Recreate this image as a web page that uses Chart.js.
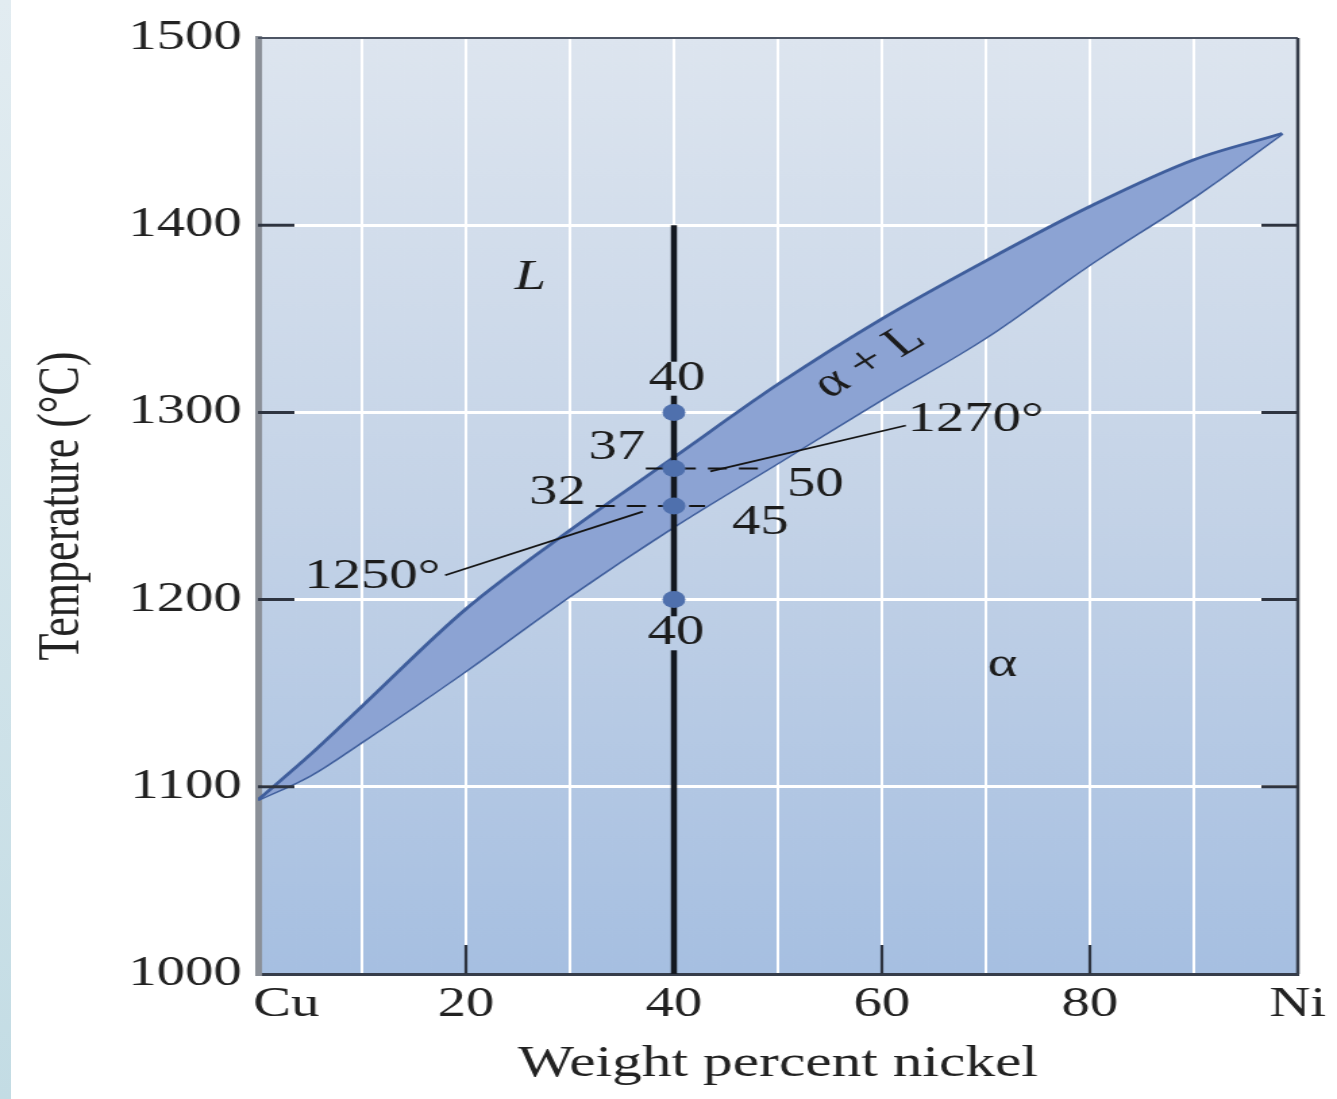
<!DOCTYPE html>
<html>
<head>
<meta charset="utf-8">
<title>Cu-Ni phase diagram</title>
<script src="https://cdn.jsdelivr.net/npm/chart.js@4.4.0/dist/chart.umd.min.js"></script>
<style>
  html, body { margin: 0; padding: 0; background: #fff; overflow: hidden; }
  #strip { position: absolute; left: 0; top: 0; width: 11px; height: 1099px;
           background: linear-gradient(#e2ecf1, #c3dce4); }
  /* the source figure is stretched sideways, so the chart is drawn narrow and scaled */
  #wrap { position: absolute; left: 0; top: 0; width: 990px; height: 1099px;
          transform: scaleX(1.3505); transform-origin: 0 0; }
</style>
</head>
<body>
<div id="strip"></div>
<div id="wrap"><canvas id="phaseChart"></canvas></div>
<script>
// composition (wt% Ni) and temperatures (°C)
const curvePct      = [0, 5, 10, 20, 30, 40, 50, 60, 70, 80, 90, 98.5];
const liquidusTemp  = [1093, 1117, 1143, 1195, 1237, 1276, 1315, 1350, 1381, 1410, 1435, 1449];
const solidusTemp   = [1093, 1106, 1124, 1162, 1202, 1239, 1273, 1307, 1340, 1379, 1415, 1449];

const alloyPct      = 40;
const alloyRange    = [1000, 1400];
const dotTemps      = [1300, 1270, 1250, 1200];

const tie1270Pct    = [37.3, 49];
const tie1250Pct    = [32.5, 43];

const leader1270    = [[62.3, 1293], [43.5, 1268.5]];
const leader1250    = [[18, 1213], [37, 1247]];

const xTickLabels   = { 0: '\u2003Cu', 20: '20', 40: '40', 60: '60', 80: '80', 100: 'Ni' };

// text labels inside the plot: [text, wt%, °C, italic, rotation deg, clear behind]
const notes = [
  ['40', 40.3, 1318, false, 0, true],
  ['37', 34.5, 1281, false, 0, false],
  ['32', 28.8, 1257, false, 0, false],
  ['50', 53.6, 1261.5, false, 0, false],
  ['45', 48.3, 1241, false, 0, false],
  ['40', 40.2, 1182, false, 0, true],
  ['1250°', 11, 1212, false, 0, false],
  ['1270°', 69, 1296, false, 0, false],
  ['L', 26.2, 1372, true, 0, false],
  ['\u03b1 + L', 58.8, 1327, false, -37.9, false],
  ['\u03b1', 71.6, 1165, false, 0, false]
];

const SERIF = '"Liberation Serif", "Times New Roman", serif';
const toPts = (xs, ys) => xs.map((x, i) => ({ x, y: ys[i] }));

let bgGrad = null;
function plotGradient(ctx, a) {
  const g = ctx.createLinearGradient(0, a.top, 0, a.bottom);
  g.addColorStop(0, '#dde5ef');
  g.addColorStop(0.5, '#c4d3e7');
  g.addColorStop(1, '#a6bfe1');
  return g;
}

const framePlugin = {
  id: 'frame',
  beforeDraw(chart) {
    const { ctx, chartArea: a } = chart;
    bgGrad = plotGradient(ctx, a);
    ctx.save();
    ctx.fillStyle = bgGrad;
    ctx.fillRect(a.left, a.top, a.right - a.left, a.bottom - a.top);
    ctx.restore();
  },
  afterDraw(chart) {
    const { ctx, chartArea: a, scales } = chart;
    ctx.save();
    // top + right frame
    ctx.strokeStyle = '#4d5564';
    ctx.lineWidth = 2;
    ctx.beginPath();
    ctx.moveTo(a.left, a.top); ctx.lineTo(a.right, a.top);
    ctx.stroke();
    ctx.strokeStyle = '#363d4a';
    ctx.lineWidth = 2.5;
    ctx.beginPath();
    ctx.moveTo(a.right, a.top); ctx.lineTo(a.right, a.bottom);
    ctx.stroke();
    // inward tick marks
    ctx.strokeStyle = '#2e3440';
    ctx.lineWidth = 3;
    [1100, 1200, 1300, 1400].forEach(v => {
      const y = scales.y.getPixelForValue(v);
      ctx.beginPath();
      ctx.moveTo(a.left, y); ctx.lineTo(a.left + 27, y);
      ctx.moveTo(a.right - 27, y); ctx.lineTo(a.right, y);
      ctx.stroke();
    });
    ctx.lineWidth = 2.2;
    [20, 60, 80].forEach(v => {
      const x = scales.x.getPixelForValue(v);
      ctx.beginPath();
      ctx.moveTo(x, a.bottom); ctx.lineTo(x, a.bottom - 29);
      ctx.stroke();
    });
    // labels
    ctx.textAlign = 'center';
    ctx.textBaseline = 'middle';
    notes.forEach(([t, px, ty, it, rot, clear]) => {
      const x = scales.x.getPixelForValue(px);
      const y = scales.y.getPixelForValue(ty);
      ctx.font = (it ? 'italic ' : '') + '42px ' + SERIF;
      if (clear) {
        // the alloy line is broken where these labels sit
        ctx.fillStyle = bgGrad;
        ctx.fillRect(x - 22, y - 17, 44, 34);
      }
      ctx.fillStyle = '#1c1c1c';
      ctx.save();
      ctx.translate(x, y);
      if (rot) ctx.rotate(rot * Math.PI / 180);
      ctx.fillText(t, 0, 0);
      ctx.restore();
    });
    ctx.restore();
  }
};

const ctx = document.getElementById('phaseChart');
new Chart(ctx, {
  type: 'line',
  data: {
    datasets: [
      { label: 'dots', data: dotTemps.map(t => ({ x: alloyPct, y: t })), showLine: false,
        pointRadius: 8.5, pointBackgroundColor: '#4f70ad', pointBorderWidth: 0, order: 0 },
      { label: 'tie 1270', data: toPts(tie1270Pct, [1270, 1270]), borderColor: '#151515',
        borderWidth: 2, borderDash: [14, 9], pointRadius: 0, order: 1 },
      { label: 'tie 1250', data: toPts(tie1250Pct, [1250, 1250]), borderColor: '#151515',
        borderWidth: 2, borderDash: [14, 9], pointRadius: 0, order: 1 },
      { label: 'leader 1270', data: leader1270.map(p => ({ x: p[0], y: p[1] })), borderColor: '#151515',
        borderWidth: 1.8, pointRadius: 0, order: 1 },
      { label: 'leader 1250', data: leader1250.map(p => ({ x: p[0], y: p[1] })), borderColor: '#151515',
        borderWidth: 1.8, pointRadius: 0, order: 1 },
      { label: 'alloy', data: alloyRange.map(t => ({ x: alloyPct, y: t })), borderColor: '#131820',
        borderWidth: 4.5, pointRadius: 0, order: 2 },
      { label: 'liquidus', data: toPts(curvePct, liquidusTemp), borderColor: '#3f5e9c', borderWidth: 2.8,
        backgroundColor: '#8ca3d3', fill: '+1', pointRadius: 0, cubicInterpolationMode: 'monotone', order: 5 },
      { label: 'solidus', data: toPts(curvePct, solidusTemp), borderColor: '#3f5e9c', borderWidth: 2.8,
        fill: false, pointRadius: 0, cubicInterpolationMode: 'monotone', order: 6 }
    ]
  },
  options: {
    responsive: true,
    maintainAspectRatio: false,
    animation: false,
    layout: { padding: { top: 38, right: 29, bottom: 0, left: 0 } },
    plugins: { legend: { display: false }, tooltip: { enabled: false } },
    scales: {
      x: {
        type: 'linear', min: 0, max: 100,
        afterFit: s => { s.height = 125; },
        ticks: {
          stepSize: 10, autoSkip: false, maxRotation: 0, padding: 6, color: '#222',
          font: { family: SERIF, size: 42 },
          callback: v => xTickLabels[v] || ''
        },
        grid: {
          drawTicks: false, lineWidth: 2,
          color: c => (c.tick && (c.tick.value === 0 || c.tick.value === 100)) ? 'rgba(0,0,0,0)' : '#ffffff'
        },
        border: { color: '#363d4a', width: 3 },
        title: { display: true, text: 'Weight percent nickel', color: '#222',
                 font: { family: SERIF, size: 44 }, padding: { top: 0, bottom: 8 } }
      },
      y: {
        min: 1000, max: 1500,
        afterFit: s => { s.width = 191; },
        ticks: { stepSize: 100, padding: 12, color: '#222', font: { family: SERIF, size: 42 },
                 callback: v => String(v) },
        grid: {
          drawTicks: false, lineWidth: 3,
          color: c => (c.tick && (c.tick.value === 1000 || c.tick.value === 1500)) ? 'rgba(0,0,0,0)' : '#ffffff'
        },
        border: { color: '#8b9098', width: 5 },
        title: { display: true, text: 'Temperature (°C)', color: '#222',
                 font: { family: SERIF, size: 44 }, padding: { top: 20, bottom: 0 } }
      }
    }
  },
  plugins: [framePlugin]
});
</script>
</body>
</html>
